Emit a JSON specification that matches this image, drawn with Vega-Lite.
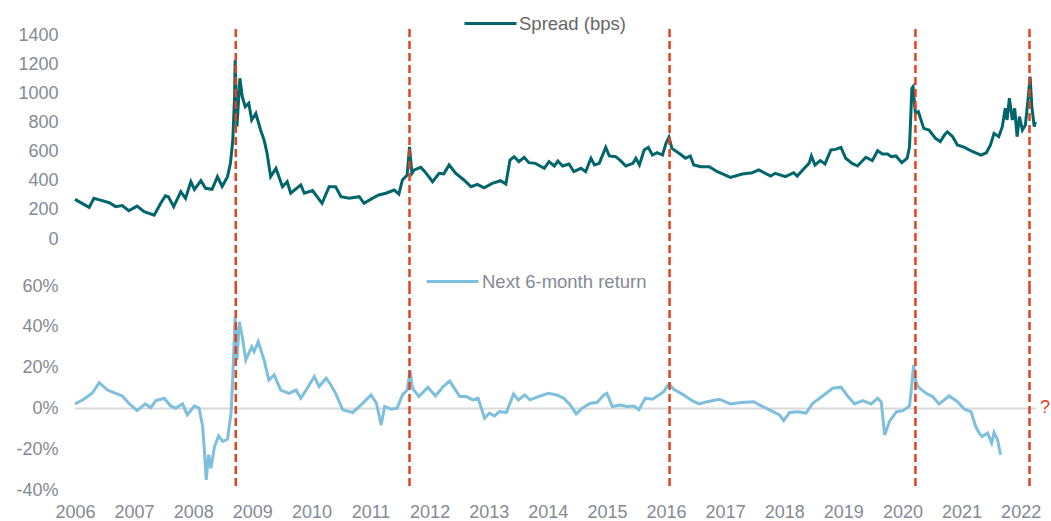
{
"$schema": "https://vega.github.io/schema/vega-lite/v6.json",
"background": "white",
"padding": {"left": 15, "top": -4, "right": 0, "bottom": 0},
"spacing": 47,
"bounds": "flush",
"config": {
  "font": "Liberation Sans",
  "view": {"stroke": null},
  "axis": {"domain": false, "ticks": false, "grid": false, "labelColor": "#858a93", "labelFontSize": 18, "title": null, "labelOverlap": false}
},
"resolve": {"scale": {"color": "independent"}, "legend": {"color": "independent"}},
"datasets": {
  "events": [{"year": 2008.72}, {"year": 2011.66}, {"year": 2016.06}, {"year": 2020.22}, {"year": 2022.15}],
  "spread": [
{"year":2006.00,"spread":272},{"year":2006.24,"spread":217},{"year":2006.32,"spread":279},{"year":2006.40,"spread":270},{"year":2006.58,"spread":249},{"year":2006.69,"spread":222},{"year":2006.80,"spread":230},{"year":2006.91,"spread":194},{"year":2007.05,"spread":226},{"year":2007.17,"spread":188},{"year":2007.34,"spread":163},{"year":2007.45,"spread":245},{"year":2007.53,"spread":297},{"year":2007.58,"spread":290},{"year":2007.67,"spread":222},{"year":2007.79,"spread":325},{"year":2007.87,"spread":279},{"year":2007.96,"spread":393},{"year":2008.02,"spread":340},{"year":2008.13,"spread":400},{"year":2008.21,"spread":348},{"year":2008.32,"spread":341},{"year":2008.41,"spread":428},{"year":2008.49,"spread":361},{"year":2008.58,"spread":428},{"year":2008.63,"spread":519},{"year":2008.67,"spread":679},{"year":2008.70,"spread":977},{"year":2008.71,"spread":1228},{"year":2008.74,"spread":771},{"year":2008.79,"spread":1103},{"year":2008.83,"spread":977},{"year":2008.88,"spread":908},{"year":2008.94,"spread":931},{"year":2008.99,"spread":817},{"year":2009.06,"spread":862},{"year":2009.14,"spread":748},{"year":2009.20,"spread":679},{"year":2009.25,"spread":588},{"year":2009.31,"spread":428},{"year":2009.40,"spread":485},{"year":2009.51,"spread":359},{"year":2009.59,"spread":393},{"year":2009.65,"spread":314},{"year":2009.82,"spread":371},{"year":2009.88,"spread":314},{"year":2010.02,"spread":332},{"year":2010.18,"spread":245},{"year":2010.30,"spread":359},{"year":2010.41,"spread":359},{"year":2010.50,"spread":290},{"year":2010.64,"spread":279},{"year":2010.81,"spread":290},{"year":2010.89,"spread":245},{"year":2011.03,"spread":279},{"year":2011.14,"spread":302},{"year":2011.26,"spread":314},{"year":2011.40,"spread":336},{"year":2011.48,"spread":309},{"year":2011.54,"spread":405},{"year":2011.62,"spread":439},{"year":2011.66,"spread":633},{"year":2011.70,"spread":451},{"year":2011.74,"spread":474},{"year":2011.85,"spread":492},{"year":2011.92,"spread":462},{"year":2012.05,"spread":393},{"year":2012.16,"spread":451},{"year":2012.24,"spread":447},{"year":2012.33,"spread":508},{"year":2012.44,"spread":451},{"year":2012.58,"spread":405},{"year":2012.70,"spread":359},{"year":2012.81,"spread":375},{"year":2012.92,"spread":352},{"year":2013.06,"spread":382},{"year":2013.20,"spread":400},{"year":2013.29,"spread":377},{"year":2013.36,"spread":542},{"year":2013.43,"spread":565},{"year":2013.51,"spread":531},{"year":2013.60,"spread":560},{"year":2013.68,"spread":524},{"year":2013.79,"spread":519},{"year":2013.94,"spread":485},{"year":2014.02,"spread":531},{"year":2014.11,"spread":501},{"year":2014.17,"spread":535},{"year":2014.25,"spread":501},{"year":2014.36,"spread":515},{"year":2014.44,"spread":462},{"year":2014.56,"spread":485},{"year":2014.64,"spread":462},{"year":2014.73,"spread":554},{"year":2014.79,"spread":508},{"year":2014.87,"spread":519},{"year":2014.98,"spread":629},{"year":2015.04,"spread":570},{"year":2015.15,"spread":565},{"year":2015.23,"spread":538},{"year":2015.32,"spread":501},{"year":2015.44,"spread":519},{"year":2015.49,"spread":554},{"year":2015.55,"spread":508},{"year":2015.63,"spread":611},{"year":2015.70,"spread":629},{"year":2015.77,"spread":576},{"year":2015.85,"spread":592},{"year":2015.94,"spread":576},{"year":2016.00,"spread":657},{"year":2016.05,"spread":698},{"year":2016.10,"spread":622},{"year":2016.22,"spread":588},{"year":2016.33,"spread":554},{"year":2016.41,"spread":570},{"year":2016.47,"spread":508},{"year":2016.59,"spread":496},{"year":2016.73,"spread":496},{"year":2016.87,"spread":462},{"year":2017.09,"spread":423},{"year":2017.29,"spread":446},{"year":2017.46,"spread":455},{"year":2017.57,"spread":474},{"year":2017.77,"spread":432},{"year":2017.85,"spread":451},{"year":2018.02,"spread":428},{"year":2018.16,"spread":455},{"year":2018.22,"spread":432},{"year":2018.34,"spread":485},{"year":2018.42,"spread":519},{"year":2018.46,"spread":570},{"year":2018.52,"spread":508},{"year":2018.61,"spread":538},{"year":2018.69,"spread":515},{"year":2018.79,"spread":611},{"year":2018.87,"spread":615},{"year":2018.96,"spread":629},{"year":2019.04,"spread":554},{"year":2019.15,"spread":519},{"year":2019.24,"spread":501},{"year":2019.38,"spread":561},{"year":2019.49,"spread":538},{"year":2019.58,"spread":606},{"year":2019.66,"spread":583},{"year":2019.75,"spread":583},{"year":2019.81,"spread":565},{"year":2019.89,"spread":570},{"year":2019.99,"spread":524},{"year":2020.08,"spread":554},{"year":2020.12,"spread":633},{"year":2020.16,"spread":1034},{"year":2020.18,"spread":1045},{"year":2020.22,"spread":862},{"year":2020.27,"spread":874},{"year":2020.36,"spread":759},{"year":2020.45,"spread":748},{"year":2020.56,"spread":691},{"year":2020.64,"spread":668},{"year":2020.72,"spread":720},{"year":2020.76,"spread":736},{"year":2020.85,"spread":702},{"year":2020.93,"spread":645},{"year":2021.05,"spread":629},{"year":2021.19,"spread":599},{"year":2021.33,"spread":576},{"year":2021.42,"spread":592},{"year":2021.49,"spread":645},{"year":2021.55,"spread":725},{"year":2021.63,"spread":702},{"year":2021.69,"spread":771},{"year":2021.74,"spread":897},{"year":2021.77,"spread":817},{"year":2021.81,"spread":966},{"year":2021.86,"spread":817},{"year":2021.90,"spread":897},{"year":2021.94,"spread":702},{"year":2021.98,"spread":840},{"year":2022.03,"spread":748},{"year":2022.08,"spread":782},{"year":2022.13,"spread":977},{"year":2022.16,"spread":1114},{"year":2022.19,"spread":907},{"year":2022.23,"spread":771},{"year":2022.25,"spread":805}
  ],
  "ret": [
{"year":2006.00,"ret":2.2},{"year":2006.15,"ret":4.5},{"year":2006.29,"ret":7.4},{"year":2006.41,"ret":12.6},{"year":2006.55,"ret":9.0},{"year":2006.66,"ret":7.7},{"year":2006.80,"ret":6.1},{"year":2006.91,"ret":2.5},{"year":2007.05,"ret":-1.1},{"year":2007.19,"ret":2.2},{"year":2007.28,"ret":0.4},{"year":2007.37,"ret":3.8},{"year":2007.51,"ret":5.0},{"year":2007.62,"ret":1.2},{"year":2007.70,"ret":0.1},{"year":2007.82,"ret":2.2},{"year":2007.90,"ret":-3.2},{"year":2008.02,"ret":1.2},{"year":2008.10,"ret":0.1},{"year":2008.16,"ret":-8.9},{"year":2008.19,"ret":-21.1},{"year":2008.22,"ret":-35.0},{"year":2008.26,"ret":-22.7},{"year":2008.30,"ret":-29.3},{"year":2008.36,"ret":-18.7},{"year":2008.43,"ret":-13.5},{"year":2008.50,"ret":-16.2},{"year":2008.58,"ret":-15.1},{"year":2008.64,"ret":-2.4},{"year":2008.67,"ret":15.6},{"year":2008.71,"ret":44.9},{"year":2008.74,"ret":23.7},{"year":2008.78,"ret":42.4},{"year":2008.83,"ret":35.1},{"year":2008.89,"ret":23.7},{"year":2008.99,"ret":30.2},{"year":2009.03,"ret":27.8},{"year":2009.10,"ret":32.7},{"year":2009.20,"ret":23.7},{"year":2009.28,"ret":13.9},{"year":2009.37,"ret":16.4},{"year":2009.48,"ret":9.0},{"year":2009.62,"ret":7.4},{"year":2009.74,"ret":9.0},{"year":2009.82,"ret":5.0},{"year":2009.93,"ret":9.9},{"year":2010.05,"ret":15.6},{"year":2010.13,"ret":10.7},{"year":2010.25,"ret":14.8},{"year":2010.33,"ret":11.5},{"year":2010.41,"ret":7.4},{"year":2010.53,"ret":-0.7},{"year":2010.70,"ret":-2.0},{"year":2010.84,"ret":1.7},{"year":2011.01,"ret":6.6},{"year":2011.10,"ret":2.5},{"year":2011.18,"ret":-8.1},{"year":2011.24,"ret":0.9},{"year":2011.35,"ret":-0.4},{"year":2011.45,"ret":0.1},{"year":2011.54,"ret":6.6},{"year":2011.62,"ret":9.0},{"year":2011.67,"ret":18.5},{"year":2011.71,"ret":9.9},{"year":2011.82,"ret":5.8},{"year":2011.97,"ret":10.4},{"year":2012.10,"ret":6.1},{"year":2012.23,"ret":10.7},{"year":2012.34,"ret":13.4},{"year":2012.51,"ret":5.8},{"year":2012.62,"ret":5.8},{"year":2012.73,"ret":4.2},{"year":2012.82,"ret":5.0},{"year":2012.93,"ret":-4.8},{"year":2013.01,"ret":-2.3},{"year":2013.10,"ret":-3.7},{"year":2013.18,"ret":-1.6},{"year":2013.30,"ret":-2.0},{"year":2013.42,"ret":7.1},{"year":2013.50,"ret":4.2},{"year":2013.61,"ret":6.6},{"year":2013.70,"ret":4.2},{"year":2013.84,"ret":5.8},{"year":2014.01,"ret":7.4},{"year":2014.15,"ret":6.6},{"year":2014.27,"ret":5.0},{"year":2014.38,"ret":1.7},{"year":2014.48,"ret":-2.7},{"year":2014.58,"ret":0.1},{"year":2014.72,"ret":2.5},{"year":2014.83,"ret":2.9},{"year":2014.95,"ret":6.6},{"year":2015.00,"ret":7.4},{"year":2015.09,"ret":0.9},{"year":2015.23,"ret":1.7},{"year":2015.34,"ret":0.9},{"year":2015.46,"ret":1.2},{"year":2015.54,"ret":-0.7},{"year":2015.65,"ret":5.0},{"year":2015.77,"ret":4.5},{"year":2015.88,"ret":6.6},{"year":2015.96,"ret":8.2},{"year":2016.05,"ret":12.0},{"year":2016.13,"ret":9.4},{"year":2016.30,"ret":6.6},{"year":2016.44,"ret":3.8},{"year":2016.56,"ret":2.2},{"year":2016.70,"ret":3.3},{"year":2016.90,"ret":4.5},{"year":2017.09,"ret":2.2},{"year":2017.27,"ret":2.9},{"year":2017.49,"ret":3.3},{"year":2017.58,"ret":1.7},{"year":2017.75,"ret":-0.7},{"year":2017.92,"ret":-3.2},{"year":2017.99,"ret":-6.0},{"year":2018.09,"ret":-2.0},{"year":2018.23,"ret":-1.6},{"year":2018.37,"ret":-2.3},{"year":2018.48,"ret":2.5},{"year":2018.60,"ret":5.0},{"year":2018.71,"ret":7.4},{"year":2018.82,"ret":9.9},{"year":2018.96,"ret":10.4},{"year":2019.08,"ret":5.8},{"year":2019.19,"ret":2.2},{"year":2019.33,"ret":3.8},{"year":2019.47,"ret":2.2},{"year":2019.58,"ret":5.0},{"year":2019.64,"ret":3.3},{"year":2019.70,"ret":-13.0},{"year":2019.78,"ret":-6.4},{"year":2019.90,"ret":-1.6},{"year":2020.01,"ret":-1.1},{"year":2020.12,"ret":1.2},{"year":2020.15,"ret":9.0},{"year":2020.19,"ret":21.3},{"year":2020.22,"ret":13.9},{"year":2020.26,"ret":10.7},{"year":2020.40,"ret":7.4},{"year":2020.51,"ret":5.8},{"year":2020.62,"ret":2.2},{"year":2020.79,"ret":6.1},{"year":2020.93,"ret":3.3},{"year":2021.05,"ret":-0.4},{"year":2021.16,"ret":-1.6},{"year":2021.24,"ret":-8.9},{"year":2021.30,"ret":-12.1},{"year":2021.35,"ret":-13.8},{"year":2021.44,"ret":-12.1},{"year":2021.51,"ret":-17.0},{"year":2021.55,"ret":-11.8},{"year":2021.61,"ret":-15.4},{"year":2021.66,"ret":-22.7}
  ]
},
"vconcat": [
  {
    "width": 961, "height": 204,
    "layer": [
      {
        "data": {"name": "spread"},
        "mark": {"type": "line", "strokeWidth": 3},
        "encoding": {
          "x": {"field": "year", "type": "quantitative", "scale": {"domain": [2006, 2022.26], "nice": false, "zero": false}, "axis": null},
          "y": {"field": "spread", "type": "quantitative", "scale": {"domain": [0, 1400], "nice": false}, "axis": {"values": [0, 200, 400, 600, 800, 1000, 1200, 1400], "tickCount": 10, "format": "d", "labelPadding": 17, "labelOverlap": false, "labelBound": false}},
          "color": {"datum": "Spread (bps)", "scale": {"range": ["#00666b"]}, "legend": {"orient": "none", "legendX": 388, "legendY": -39, "title": null, "symbolType": "stroke", "symbolSize": 2704, "symbolStrokeWidth": 3, "labelFontSize": 18.5, "labelColor": "#666666", "labelOffset": 1, "labelLimit": 400}}
        }
      },
      {
        "data": {"name": "events"},
        "mark": {"type": "rule", "color": "#e2431e", "strokeWidth": 2.5, "strokeDash": [8, 4]},
        "encoding": {
          "x": {"field": "year", "type": "quantitative"},
          "y": {"datum": 1441},
          "y2": {"datum": -322}
        }
      }
    ]
  },
  {
    "width": 961, "height": 204,
    "layer": [
      {
        "data": {"values": [{"z": 0}]},
        "mark": {"type": "rule", "color": "#d9d9d9", "strokeWidth": 2},
        "encoding": {"y": {"field": "z", "type": "quantitative"}}
      },
      {
        "data": {"name": "ret"},
        "mark": {"type": "line", "strokeWidth": 3},
        "encoding": {
          "x": {"field": "year", "type": "quantitative", "scale": {"domain": [2006, 2022.26], "nice": false, "zero": false}, "axis": {"values": [2006, 2007, 2008, 2009, 2010, 2011, 2012, 2013, 2014, 2015, 2016, 2017, 2018, 2019, 2020, 2021, 2022], "tickCount": 20, "format": "d", "labelFlush": false, "labelOverlap": false, "labelPadding": 13}},
          "y": {"field": "ret", "type": "quantitative", "scale": {"domain": [-40, 60], "nice": false}, "axis": {"values": [-40, -20, 0, 20, 40, 60], "tickCount": 8, "labelExpr": "datum.value + '%'", "labelPadding": 17, "labelOverlap": false}},
          "color": {"datum": "Next 6-month return", "scale": {"range": ["#7dbfdd"]}, "legend": {"orient": "none", "legendX": 350, "legendY": -32, "title": null, "symbolType": "stroke", "symbolSize": 2704, "symbolStrokeWidth": 3, "labelFontSize": 18.5, "labelColor": "#858a93", "labelOffset": 2, "labelLimit": 400}}
        }
      },
      {
        "data": {"name": "events"},
        "mark": {"type": "rule", "color": "#e2431e", "strokeWidth": 2.5, "strokeDash": [8, 4]},
        "encoding": {"x": {"field": "year", "type": "quantitative"}}
      },
      {
        "data": {"values": [{"year": 2022.26, "ret": 0, "t": "?"}]},
        "mark": {"type": "text", "color": "#e2431e", "fontSize": 18, "dx": 9, "align": "center", "baseline": "middle"},
        "encoding": {
          "x": {"field": "year", "type": "quantitative"},
          "y": {"field": "ret", "type": "quantitative"},
          "text": {"field": "t"}
        }
      }
    ]
  }
]
}
